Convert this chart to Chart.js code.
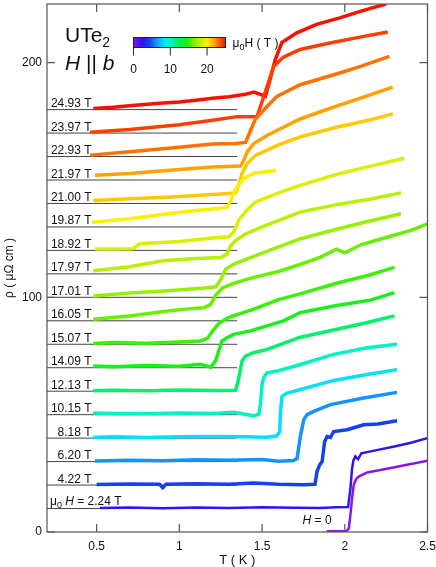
<!DOCTYPE html>
<html>
<head>
<meta charset="utf-8">
<script src="https://cdn.jsdelivr.net/npm/chart.js@4.4.0/dist/chart.umd.min.js"></script>
<style>
  html, body { margin: 0; padding: 0; background: #fff; }
</style>
</head>
<body>
<canvas id="rhoChart" width="436" height="567"></canvas>
<script>
// fields (T) and the offset (μΩ cm) each trace is shifted by
const fields = [0, 2.24, 4.22, 6.20, 8.18, 10.15, 12.13, 14.09, 15.07, 16.05, 17.01, 17.97, 18.92, 19.87, 21.00, 21.97, 22.93, 23.97, 24.93];
const offsets = [0, 10, 20, 30, 40, 50, 60, 70, 80, 90, 100, 110, 120, 130, 140, 150, 160, 170, 180];
const fieldLabels = ['H = 0', 'μ0 H = 2.24 T', '4.22 T', '6.20 T', '8.18 T', '10.15 T', '12.13 T', '14.09 T', '15.07 T',
  '16.05 T', '17.01 T', '17.97 T', '18.92 T', '19.87 T', '21.00 T', '21.97 T', '22.93 T', '23.97 T', '24.93 T'];
const xTicks = [0.5, 1, 1.5, 2, 2.5];
const yTicks = [0, 100, 200];
const barTicks = [0, 10, 20];

// rho(T) traces, [T (K), rho incl. offset]
const rhoH0 = [[1.89,0.3],[1.95,0.3],[2.01,0.4],[2.024,1.4],[2.034,7.2],[2.044,14.3],[2.054,20],[2.068,22.5],[2.084,23.6],[2.135,25.4],[2.215,26.4],[2.3,27.6],[2.4,29],[2.5,30.4]];
const rho224 = [[0.52,10.2],[0.7,10.4],[0.9,10.1],[1.1,10.4],[1.3,10.2],[1.5,10.5],[1.7,10.3],[1.85,10.2],[1.95,10.5],[2.02,10.6],[2.034,18.5],[2.044,27],[2.052,30.5],[2.064,32.2],[2.08,31],[2.1,33.5],[2.2,35],[2.3,36.4],[2.4,38],[2.5,40]];
const rho422 = [[0.5,20.2],[0.7,20.5],[0.88,20.3],[0.9,18.9],[0.92,20.4],[1.1,20.6],[1.3,20.4],[1.45,20.9],[1.6,20.3],[1.75,20.1],[1.82,20.3],[1.832,25.7],[1.848,28.6],[1.863,30],[1.878,38.5],[1.893,40.7],[1.913,40.3],[1.933,42.8],[2.014,43.6],[2.114,45.7],[2.2,46],[2.316,47.4]];
const rho620 = [[0.49,30.3],[0.7,30.6],[0.9,30.4],[1.1,30.8],[1.3,30.6],[1.5,30.9],[1.6,30.2],[1.69,30.5],[1.712,31.4],[1.732,41],[1.752,47.8],[1.772,50],[1.812,51.4],[1.913,54.3],[2.114,57.1],[2.316,59.5]];
const rho818 = [[0.476,40.3],[0.6,40.6],[0.8,40.3],[1.0,40.6],[1.2,40.7],[1.4,40.6],[1.53,40.4],[1.59,41],[1.607,42.8],[1.611,51.4],[1.621,57.8],[1.651,59.2],[1.732,60.7],[1.933,64.6],[2.135,67.1],[2.316,69.2]];
const rho1015 = [[0.48,50.7],[0.6,50.5],[0.8,50.4],[1.0,50.7],[1.2,50.5],[1.33,51],[1.45,49.5],[1.48,50.2],[1.49,54.3],[1.5,62.8],[1.51,65.7],[1.53,67.8],[1.6,68.7],[1.732,71.4],[1.933,75.7],[2.135,78.5],[2.316,80]];
const rho1213 = [[0.48,60.2],[0.6,60.4],[0.8,60.2],[1.0,60.5],[1.2,60.3],[1.34,60.4],[1.355,64.2],[1.379,72.8],[1.399,74.9],[1.449,76.4],[1.53,77.8],[1.732,83],[1.953,86.4],[2.15,89.5],[2.3,92.1]];
const rho1409 = [[0.48,70.7],[0.6,70.4],[0.8,71],[1.0,70.6],[1.127,71.5],[1.19,70.2],[1.218,72.8],[1.238,77.1],[1.258,81.4],[1.288,82.8],[1.328,84.2],[1.43,85.7],[1.63,90],[1.73,93.5],[1.95,96.5],[2.155,98.8],[2.3,102]];
const rho1507 = [[0.48,80.3],[0.6,80.8],[0.8,80.4],[1.0,81],[1.127,81.4],[1.17,82.5],[1.2,85.5],[1.24,89],[1.3,91.5],[1.45,95],[1.6,99],[1.73,101.5],[1.95,106],[2.15,109.5],[2.3,112.8]];
const rho1605 = [[0.48,90.7],[0.7,92],[0.93,94.2],[1.1,95.4],[1.15,95.6],[1.19,97],[1.22,101],[1.26,104],[1.33,106],[1.45,108.5],[1.6,111],[1.73,114],[1.85,117],[1.95,120.5],[2.0,119],[2.1,122.5],[2.25,125.5],[2.4,128.5],[2.5,131.3]];
const rho1701 = [[0.48,100.6],[0.7,101.8],[0.93,102.8],[1.15,104],[1.22,104.5],[1.25,107.5],[1.28,112],[1.33,114.2],[1.45,117.5],[1.6,121.5],[1.73,124.9],[1.95,129],[2.15,132.5],[2.34,135.6]];
const rho1797 = [[0.48,111.3],[0.7,113],[0.9,115.6],[1.1,116.5],[1.25,117],[1.29,118.5],[1.31,122],[1.34,124.2],[1.4,127],[1.5,130],[1.73,136.3],[1.95,139.5],[2.15,141.8],[2.34,144.5]];
const rho1892 = [[0.49,120.6],[0.6,120.6],[0.72,120.7],[0.76,122.8],[1.0,123.8],[1.2,125.3],[1.3,125.8],[1.33,128],[1.36,133],[1.4,136.5],[1.46,140.6],[1.6,144.5],[1.73,147.7],[1.97,152.8],[2.15,155.8],[2.36,159.3]];
const rho1987 = [[0.47,132],[0.7,133.5],[0.93,135.6],[1.1,137],[1.25,138],[1.29,138.5],[1.31,141],[1.33,145],[1.351,147],[1.389,150.6],[1.449,152.8],[1.52,153.5],[1.585,154]];
const rho2100 = [[0.48,141.3],[0.7,142],[0.93,142.7],[1.1,143.4],[1.25,144],[1.34,144.5],[1.36,148],[1.38,153],[1.41,157],[1.46,160.5],[1.6,165],[1.73,168.4],[1.95,172.5],[2.15,175.6],[2.29,178.2]];
const rho2197 = [[0.49,152],[0.7,152.8],[1.0,154.5],[1.2,155.5],[1.37,156],[1.39,158.5],[1.41,162],[1.45,165.5],[1.53,169],[1.73,176],[1.93,181],[2.1,185],[2.29,189.6]];
const rho2293 = [[0.46,160.6],[0.7,162],[1.0,164],[1.2,165.3],[1.34,165.6],[1.4,166],[1.43,171],[1.46,176],[1.53,181.3],[1.59,185.6],[1.73,190.6],[1.97,195.6],[2.1,198.5],[2.27,202.7]];
const rho2397 = [[0.46,170.3],[0.7,171.5],[1.0,173.5],[1.2,175.5],[1.35,177],[1.47,177],[1.49,181.3],[1.53,189.8],[1.57,198.4],[1.63,202.4],[1.73,205.6],[1.91,208.4],[2.1,211],[2.26,213.1]];
const rho2493 = [[0.48,180.5],[0.6,181],[0.75,182],[0.9,182.8],[1.0,183.2],[1.1,184],[1.2,184.8],[1.3,185.5],[1.4,186.5],[1.45,187.5],[1.49,186.5],[1.52,185.6],[1.54,190.6],[1.58,201.3],[1.62,208.6],[1.71,212.7],[1.83,216.3],[1.97,219.1],[2.07,221.3],[2.15,223],[2.25,225]];

const traces = [rhoH0, rho224, rho422, rho620, rho818, rho1015, rho1213, rho1409, rho1507, rho1605,
  rho1701, rho1797, rho1892, rho1987, rho2100, rho2197, rho2293, rho2397, rho2493];

// rainbow colour scale for the field, 0..25 T
const cmap = [[0,[140,20,230]],[2.5,[40,20,240]],[4.5,[20,70,245]],[6.5,[20,160,255]],[8.5,[0,235,255]],
  [10.5,[0,245,180]],[12.5,[0,240,90]],[14.5,[30,240,10]],[17,[150,240,0]],[20,[255,240,0]],[22,[255,160,0]],[25,[255,10,0]]];
function colorAt(h) {
  for (let i = 1; i < cmap.length; i++) {
    if (h <= cmap[i][0]) {
      const [h0, c0] = cmap[i - 1], [h1, c1] = cmap[i];
      const t = (h - h0) / (h1 - h0);
      const c = c0.map((v, k) => Math.round(v + (c1[k] - v) * t));
      return `rgb(${c[0]},${c[1]},${c[2]})`;
    }
  }
  const c = cmap[cmap.length - 1][1];
  return `rgb(${c[0]},${c[1]},${c[2]})`;
}

const FONT = "'Liberation Sans', Arial, Helvetica, sans-serif";
const BASE_END = 1.35;  // reference lines run from the left axis to here

const datasets = [];
traces.forEach((tr, i) => {
  datasets.push({
    data: tr,
    borderColor: colorAt(fields[i]),
    borderWidth: i <= 1 ? 2.5 : 3.5,
    pointRadius: 0,
    showLine: true,
    order: 0
  });
  if (i > 0) {
    datasets.push({
      data: [[0.2, offsets[i]], [BASE_END, offsets[i]]],
      borderColor: '#444',
      borderWidth: 1,
      pointRadius: 0,
      showLine: true,
      order: 1
    });
  }
});

function subText(ctx, parts, x, y) {
  // parts: [text, size, italic, dy]
  parts.forEach(([t, size, italic, dy]) => {
    ctx.font = `${italic ? 'italic ' : ''}${size}px ${FONT}`;
    ctx.fillText(t, x, y + (dy || 0));
    x += ctx.measureText(t).width;
  });
}

const decor = {
  id: 'decor',
  afterDatasetsDraw(chart) {
    const { ctx, chartArea: a, scales: { x, y } } = chart;
    ctx.save();
    ctx.strokeStyle = '#555';
    ctx.lineWidth = 1.2;
    ctx.strokeRect(a.left, a.top, a.right - a.left, a.bottom - a.top);
    ctx.beginPath();
    xTicks.forEach(v => {
      const px = x.getPixelForValue(v);
      ctx.moveTo(px, a.bottom); ctx.lineTo(px, a.bottom - 8);
      ctx.moveTo(px, a.top); ctx.lineTo(px, a.top + 8);
    });
    yTicks.forEach(v => {
      const py = y.getPixelForValue(v);
      ctx.moveTo(a.left, py); ctx.lineTo(a.left + 8, py);
      ctx.moveTo(a.right, py); ctx.lineTo(a.right - 8, py);
    });
    ctx.stroke();

    // field labels
    ctx.fillStyle = '#111';
    ctx.textBaseline = 'alphabetic';
    ctx.font = `12px ${FONT}`;
    ctx.textAlign = 'right';
    const lx = x.getPixelForValue(0.5) - 5;
    for (let i = 2; i < fields.length; i++) {
      ctx.fillText(fieldLabels[i], lx, y.getPixelForValue(offsets[i]) - 2.5);
    }
    ctx.textAlign = 'left';
    subText(ctx, [['μ', 12], ['0', 9, false, 3], [' ', 12], ['H', 12, true], [' = 2.24 T', 12]],
      a.left + 3, y.getPixelForValue(offsets[1]) - 3.5);
    subText(ctx, [['H', 12, true], [' = 0', 12]], x.getPixelForValue(1.89) - 24, y.getPixelForValue(0) - 8);

    // sample / field direction
    subText(ctx, [['UTe', 21], ['2', 14, false, 5]], a.left + 18, a.top + 38);
    subText(ctx, [['H', 21, true], [' || ', 21], ['b', 21, true]], a.left + 18, a.top + 66);

    // colour bar
    const bx0 = 133.5, bx1 = 225.5, by0 = 37.5, by1 = 47.5, hMax = 25;
    const g = ctx.createLinearGradient(bx0, 0, bx1, 0);
    cmap.forEach(([h, c]) => g.addColorStop(h / hMax, `rgb(${c[0]},${c[1]},${c[2]})`));
    ctx.fillStyle = g;
    ctx.fillRect(bx0, by0, bx1 - bx0, by1 - by0);
    ctx.strokeStyle = '#222';
    ctx.lineWidth = 1;
    ctx.strokeRect(bx0, by0, bx1 - bx0, by1 - by0);
    ctx.fillStyle = '#111';
    ctx.textAlign = 'center';
    ctx.textBaseline = 'middle';
    ctx.font = `12px ${FONT}`;
    ctx.beginPath();
    barTicks.forEach(v => {
      const px = bx0 + (bx1 - bx0) * v / hMax;
      ctx.moveTo(px, by1); ctx.lineTo(px, by1 + 8);
      ctx.fillText(String(v), px, by1 + 22);
    });
    ctx.stroke();
    ctx.textAlign = 'left';
    ctx.textBaseline = 'alphabetic';
    subText(ctx, [['μ', 12], ['0', 9, false, 3], ['H ( T )', 12]], bx1 + 7, by1 - 1);
    ctx.restore();
  }
};

new Chart(document.getElementById('rhoChart').getContext('2d'), {
  type: 'scatter',
  data: { datasets },
  options: {
    responsive: false,
    devicePixelRatio: 1,
    animation: false,
    layout: { padding: { left: 0, right: 8.5, top: 4, bottom: 0 } },
    plugins: { legend: { display: false }, tooltip: { enabled: false } },
    scales: {
      x: {
        type: 'linear',
        min: 0.2,
        max: 2.5,
        afterBuildTicks: s => { s.ticks = xTicks.map(v => ({ value: v })); },
        afterFit: s => { s.height = 35; s.paddingLeft = 0; s.paddingRight = 0; },
        grid: { display: false, drawTicks: false },
        border: { display: false },
        ticks: { padding: 7, color: '#111', font: { family: FONT, size: 12 }, callback: v => String(+v.toFixed(2)) },
        title: { display: true, text: 'T ( K )', color: '#111', font: { family: FONT, size: 13, lineHeight: 1 }, padding: { top: 0, bottom: 0 } }
      },
      y: {
        type: 'linear',
        min: 0,
        max: 225,
        afterBuildTicks: s => { s.ticks = yTicks.map(v => ({ value: v })); },
        afterFit: s => { s.width = 47; s.paddingTop = 0; s.paddingBottom = 0; },
        grid: { display: false, drawTicks: false },
        border: { display: false },
        ticks: { padding: 5, color: '#111', font: { family: FONT, size: 12 } },
        title: { display: true, text: 'ρ ( μΩ cm )', color: '#111', font: { family: FONT, size: 12 }, padding: { top: 2, bottom: 0 } }
      }
    }
  },
  plugins: [decor]
});
</script>
</body>
</html>
